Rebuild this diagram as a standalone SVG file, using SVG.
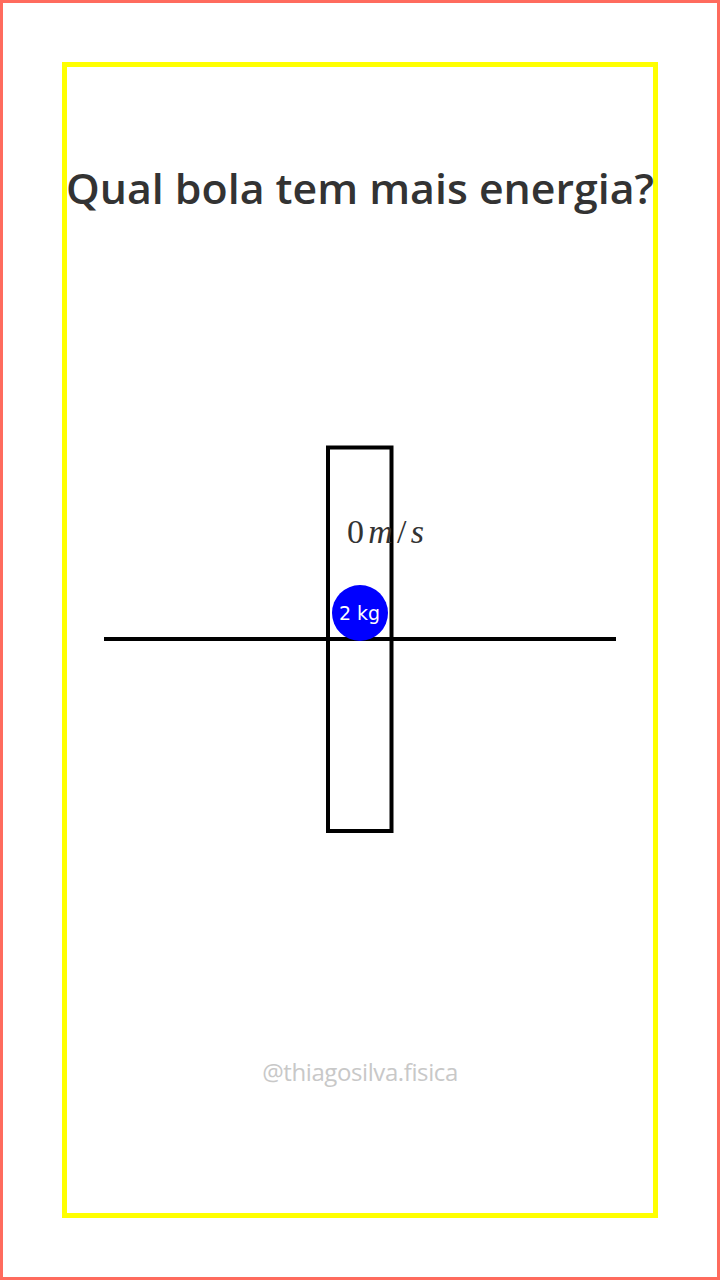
<svg xmlns="http://www.w3.org/2000/svg" width="720" height="1280" viewBox="0 0 720 1280">
<style>
.title{font-family:"Open Sans","Noto Sans",sans-serif;font-weight:600;font-size:42px;fill:#333;text-anchor:middle}
.wm{font-family:"Open Sans","Noto Sans",sans-serif;font-size:24px;fill:#c8c8c8;text-anchor:middle;letter-spacing:-0.4px}
.math{font-family:"Liberation Serif","DejaVu Serif",serif;font-size:34px;fill:#333}
.ball{font-family:"DejaVu Sans",sans-serif;font-size:19px;fill:#fff;text-anchor:middle}
.blk{fill:none;stroke:#000;stroke-width:4}
</style>
<rect x="0" y="0" width="720" height="1280" fill="#fff"/>
<rect x="1.5" y="1.5" width="717" height="1277" fill="none" stroke="#ff6b5e" stroke-width="3"/>
<rect x="64.5" y="64.5" width="591" height="1151" fill="none" stroke="#ffff00" stroke-width="5"/>
<text class="title" x="360" y="204" textLength="588" lengthAdjust="spacingAndGlyphs">Qual bola tem mais energia?</text>
<g id="ground"><line class="blk" x1="104" y1="639" x2="616" y2="639"/></g>
<g id="box"><rect class="blk" x="328" y="447.5" width="63.5" height="383.5"/></g>
<g id="label"><text class="math" x="347" y="543" textLength="77" lengthAdjust="spacing">0<tspan font-style="italic">m</tspan>/<tspan font-style="italic">s</tspan></text></g>
<g id="ball"><circle cx="360" cy="613" r="28" fill="#0000ff"/><text class="ball" x="359.5" y="619.5">2 kg</text></g>
<text class="wm" x="360" y="1081">@thiagosilva.fisica</text>
</svg>
